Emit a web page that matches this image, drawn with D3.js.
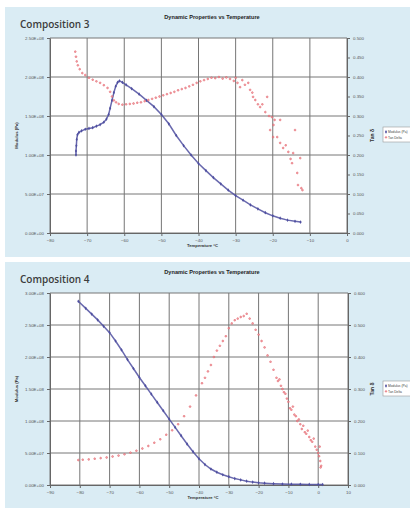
<!DOCTYPE html>
<html>
<head>
<meta charset="utf-8">
<script src="https://cdn.jsdelivr.net/npm/d3@7"></script>
<style>
    body { margin: 0; background: #fff; }
    svg { display: block; font-family: "Liberation Sans", Arial, sans-serif; }
</style>
</head>
<body>
<div id="chart"></div>
<script>
'use strict';

// ---- data: [temperature °C, value] ----
const comp3Modulus = [
    [-73.0, 1.00e8], [-73.0, 1.05e8], [-72.9, 1.12e8], [-72.8, 1.20e8], [-72.6, 1.26e8],
    [-72.2, 1.29e8], [-71.5, 1.31e8], [-70.5, 1.33e8], [-69.5, 1.34e8], [-68.5, 1.35e8],
    [-67.5, 1.37e8], [-66.5, 1.39e8], [-65.5, 1.42e8], [-64.8, 1.46e8], [-64.2, 1.52e8],
    [-63.8, 1.60e8], [-63.3, 1.70e8], [-62.8, 1.80e8], [-62.3, 1.88e8], [-61.8, 1.93e8],
    [-61.3, 1.95e8], [-60.5, 1.93e8], [-59.5, 1.90e8], [-58.0, 1.85e8], [-56.0, 1.78e8],
    [-54.0, 1.70e8], [-52.0, 1.62e8], [-50.0, 1.52e8], [-48.0, 1.40e8], [-46.0, 1.25e8],
    [-44.0, 1.12e8], [-42.0, 1.00e8], [-40.0, 0.89e8], [-38.0, 0.80e8], [-36.0, 0.71e8],
    [-34.0, 0.63e8], [-32.0, 0.55e8], [-30.0, 0.48e8], [-28.0, 0.42e8], [-26.0, 0.36e8],
    [-24.0, 0.31e8], [-22.0, 0.26e8], [-20.0, 0.22e8], [-18.0, 0.19e8], [-16.0, 0.165e8],
    [-14.0, 0.15e8], [-12.5, 0.14e8]
];
const comp3TanDelta = [
    [-73.2, 0.465], [-73.0, 0.452], [-72.8, 0.44], [-72.5, 0.43], [-72.0, 0.42], [-71.3, 0.41],
    [-70.5, 0.405], [-69.5, 0.398], [-68.5, 0.393], [-67.5, 0.389], [-66.5, 0.385], [-65.5, 0.379],
    [-64.5, 0.372], [-63.8, 0.362], [-63.3, 0.35], [-62.8, 0.34], [-62.2, 0.335], [-61.5, 0.331],
    [-60.5, 0.329], [-59.5, 0.33], [-58.5, 0.331], [-57.5, 0.332], [-56.5, 0.334], [-55.5, 0.335],
    [-54.5, 0.338], [-53.5, 0.341], [-52.5, 0.344], [-51.5, 0.347], [-50.5, 0.35], [-49.5, 0.353],
    [-48.5, 0.356], [-47.5, 0.359], [-46.5, 0.362], [-45.5, 0.366], [-44.5, 0.369], [-43.5, 0.372],
    [-42.5, 0.376], [-41.5, 0.38], [-40.5, 0.385], [-39.5, 0.389], [-38.5, 0.392], [-37.5, 0.395],
    [-36.5, 0.398], [-35.5, 0.397], [-34.5, 0.40], [-33.5, 0.396], [-32.5, 0.399], [-31.5, 0.395],
    [-30.5, 0.39], [-30.0, 0.398], [-29.5, 0.385], [-28.8, 0.374], [-28.2, 0.392], [-27.5, 0.38],
    [-26.6, 0.385], [-26.1, 0.367], [-25.5, 0.36], [-25.3, 0.349], [-24.7, 0.341], [-24.0, 0.33],
    [-23.4, 0.323], [-22.8, 0.33], [-22.0, 0.31], [-21.5, 0.349], [-21.0, 0.30], [-20.7, 0.264],
    [-20.2, 0.297], [-19.8, 0.277], [-19.5, 0.29], [-19.9, 0.246], [-18.8, 0.246], [-18.0, 0.29],
    [-18.0, 0.231], [-17.2, 0.218], [-16.5, 0.225], [-15.8, 0.208], [-15.2, 0.19], [-14.8, 0.179],
    [-14.5, 0.205], [-14.0, 0.264], [-13.4, 0.154], [-13.2, 0.123], [-12.6, 0.192], [-12.3, 0.115],
    [-12.0, 0.11]
];
const comp4Modulus = [
    [-80.5, 2.87e8], [-78.0, 2.76e8], [-76.0, 2.67e8], [-74.0, 2.58e8], [-72.0, 2.48e8],
    [-70.0, 2.38e8], [-68.0, 2.25e8], [-66.0, 2.11e8], [-64.0, 1.96e8], [-62.0, 1.82e8],
    [-60.0, 1.68e8], [-58.0, 1.55e8], [-56.0, 1.42e8], [-54.0, 1.29e8], [-52.0, 1.16e8],
    [-50.0, 1.03e8], [-48.0, 0.90e8], [-46.0, 0.77e8], [-44.0, 0.64e8], [-42.0, 0.52e8],
    [-40.0, 0.41e8], [-38.0, 0.32e8], [-36.0, 0.25e8], [-34.0, 0.20e8], [-32.0, 0.16e8],
    [-30.0, 0.13e8], [-28.0, 0.10e8], [-26.0, 0.08e8], [-24.0, 0.06e8], [-22.0, 0.045e8],
    [-20.0, 0.035e8], [-18.0, 0.028e8], [-15.0, 0.02e8], [-12.0, 0.015e8], [-9.0, 0.012e8],
    [-6.0, 0.01e8], [-3.0, 0.009e8], [0.0, 0.008e8], [1.5, 0.008e8]
];
const comp4TanDelta = [
    [-80.5, 0.078], [-79.0, 0.079], [-77.0, 0.080], [-75.0, 0.082], [-73.0, 0.084], [-71.0, 0.086],
    [-69.0, 0.089], [-67.0, 0.092], [-65.0, 0.096], [-63.0, 0.101], [-61.0, 0.107], [-59.0, 0.114],
    [-57.0, 0.122], [-55.0, 0.132], [-53.0, 0.143], [-51.0, 0.157], [-49.0, 0.171], [-47.0, 0.19],
    [-45.0, 0.215], [-43.0, 0.245], [-41.0, 0.28], [-39.0, 0.318], [-38.0, 0.335], [-37.0, 0.355],
    [-36.0, 0.375], [-35.0, 0.40], [-34.0, 0.42], [-33.0, 0.435], [-32.0, 0.45], [-31.0, 0.465],
    [-30.0, 0.49], [-29.0, 0.505], [-28.0, 0.515], [-27.0, 0.52], [-26.0, 0.525], [-25.0, 0.528],
    [-24.0, 0.535], [-23.0, 0.52], [-22.0, 0.505], [-21.0, 0.485], [-20.0, 0.47], [-19.0, 0.45],
    [-18.0, 0.43], [-17.0, 0.405], [-16.0, 0.385], [-15.0, 0.36], [-14.0, 0.335], [-13.5, 0.325],
    [-13.0, 0.33], [-12.5, 0.31], [-12.0, 0.30], [-11.5, 0.29], [-11.0, 0.285], [-10.5, 0.27],
    [-10.0, 0.26], [-9.5, 0.24], [-9.0, 0.235], [-8.5, 0.245], [-8.0, 0.22], [-7.5, 0.215],
    [-7.0, 0.20], [-6.5, 0.205], [-6.0, 0.19], [-5.5, 0.175], [-5.0, 0.185], [-4.5, 0.165],
    [-4.0, 0.16], [-3.5, 0.17], [-3.0, 0.15], [-2.5, 0.14], [-2.0, 0.135], [-1.5, 0.145],
    [-1.0, 0.12], [-0.5, 0.11], [0.0, 0.10], [0.3, 0.09], [0.5, 0.12], [0.7, 0.075],
    [0.8, 0.055], [1.0, 0.06]
];

// ---- tick labels ----
const comp3TempTicks = [-80, -70, -60, -50, -40, -30, -20, -10, 0];
const comp3ModulusTicks = [0, 5e7, 1e8, 1.5e8, 2e8, 2.5e8];
const comp3TanTicks = [0, 0.05, 0.1, 0.15, 0.2, 0.25, 0.3, 0.35, 0.4, 0.45, 0.5];
const comp4TempTicks = [-90, -80, -70, -60, -50, -40, -30, -20, -10, 0, 10];
const comp4ModulusTicks = [0, 5e7, 1e8, 1.5e8, 2e8, 2.5e8, 3e8];
const comp4TanTicks = [0, 0.1, 0.2, 0.3, 0.4, 0.5, 0.6];

const seriesNames = ['Modulus (Pa)', 'Tan Delta'];

const W = 410, H = 508;
const BLUE = '#4f4fa0', RED = '#e2525c';

const svg = d3.select('#chart').append('svg')
    .attr('width', W)
    .attr('height', H);

function sciFormat(v) {
    if (v === 0) return '0.00E+00';
    let e = Math.floor(Math.log10(v));
    let m = v / Math.pow(10, e);
    return m.toFixed(2) + 'E+' + String(e).padStart(2, '0');
}

function drawPanel(p) {
    let g = svg.append('g');
    g.append('rect')
        .attr('x', 5).attr('y', p.top)
        .attr('width', W - 5).attr('height', p.bottom - p.top)
        .attr('fill', '#daecf4');

    let x = d3.scaleLinear().domain(p.xDomain).range([p.left, p.right]);
    let y = d3.scaleLinear().domain(p.yDomain).range([p.plotBottom, p.plotTop]);
    let y2 = d3.scaleLinear().domain(p.y2Domain).range([p.plotBottom, p.plotTop]);

    g.append('rect')
        .attr('x', p.left).attr('y', p.plotTop)
        .attr('width', p.right - p.left).attr('height', p.plotBottom - p.plotTop)
        .attr('fill', '#fff');

    // grid
    g.append('g').selectAll('line').data(p.xTicks).join('line')
        .attr('x1', d => x(d)).attr('x2', d => x(d))
        .attr('y1', p.plotTop).attr('y2', p.plotBottom)
        .attr('stroke', '#767676').attr('stroke-width', 1);
    g.append('g').selectAll('line').data(p.yTicks).join('line')
        .attr('x1', p.left).attr('x2', p.right)
        .attr('y1', d => y(d)).attr('y2', d => y(d))
        .attr('stroke', '#767676').attr('stroke-width', 1);

    // axes
    let axisStyle = function(sel) {
        sel.selectAll('path.domain').attr('stroke', '#666');
        sel.selectAll('.tick line').attr('stroke', '#666');
        sel.selectAll('.tick text')
            .attr('fill', '#555')
            .style('font-size', '4.4px');
    };
    g.append('g')
        .attr('transform', `translate(0,${p.plotBottom})`)
        .call(d3.axisBottom(x).tickValues(p.xTicks).tickFormat(d3.format('d')).tickSize(3).tickSizeOuter(0))
        .call(axisStyle);
    g.append('g')
        .attr('transform', `translate(${p.left},0)`)
        .call(d3.axisLeft(y).tickValues(p.yTicks).tickFormat(sciFormat).tickSize(3).tickSizeOuter(0))
        .call(axisStyle);
    g.append('g')
        .attr('transform', `translate(${p.right},0)`)
        .call(d3.axisRight(y2).tickValues(p.y2Ticks).tickFormat(d3.format('.3f')).tickSize(3).tickSizeOuter(0))
        .call(axisStyle);

    // titles
    g.append('text')
        .attr('x', 20).attr('y', p.top + 21)
        .attr('fill', '#3c3c3c')
        .style('font-family', '"Open Sans", sans-serif')
        .style('font-size', '10px').style('font-weight', 600)
        .text(p.name);
    g.append('text')
        .attr('x', 212).attr('y', p.top + 12)
        .attr('text-anchor', 'middle')
        .attr('fill', '#222')
        .style('font-size', '5.6px').style('font-weight', 'bold')
        .text('Dynamic Properties vs Temperature');
    g.append('text')
        .attr('x', (p.left + p.right) / 2 + 4).attr('y', p.plotBottom + 14)
        .attr('text-anchor', 'middle')
        .attr('fill', '#333')
        .style('font-size', '4.2px').style('font-weight', 'bold')
        .text('Temperature °C');
    g.append('text')
        .attr('transform', `translate(18,${(p.plotTop + p.plotBottom) / 2}) rotate(-90)`)
        .attr('text-anchor', 'middle')
        .attr('fill', '#333')
        .style('font-size', '4.2px').style('font-weight', 'bold')
        .text('Modulus (Pa)');
    g.append('text')
        .attr('transform', `translate(374,${(p.plotTop + p.plotBottom) / 2}) rotate(-90)`)
        .attr('text-anchor', 'middle')
        .attr('fill', '#333')
        .style('font-size', '5px').style('font-weight', 'bold')
        .text('Tan δ');

    // series
    let line = d3.line().x(d => x(d[0])).y(d => y(d[1]));
    g.append('path')
        .datum(p.modulus)
        .attr('d', line)
        .attr('fill', 'none')
        .attr('stroke', BLUE).attr('stroke-width', 1.5).attr('opacity', 0.85);
    g.append('g').selectAll('path').data(p.modulus).join('path')
        .attr('d', d3.symbol(d3.symbolDiamond, 4))
        .attr('transform', d => `translate(${x(d[0])},${y(d[1])})`)
        .attr('fill', BLUE);
    g.append('g').selectAll('circle').data(p.tanDelta).join('circle')
        .attr('cx', d => x(d[0])).attr('cy', d => y2(d[1]))
        .attr('r', 0.9)
        .attr('fill', '#f3a9ad')
        .attr('stroke', RED).attr('stroke-width', 0.6).attr('opacity', 0.9);

    // legend, pushed against the right page edge like the original
    let lg = g.append('g').attr('transform', `translate(383,${p.legendY})`);
    lg.append('rect')
        .attr('width', 30).attr('height', 15)
        .attr('fill', '#fff').attr('stroke', '#999').attr('stroke-width', 0.6);
    lg.selectAll('text').data(seriesNames).join('text')
        .attr('x', 5).attr('y', (d, i) => 6 + i * 5.5)
        .attr('fill', '#444')
        .style('font-size', '3.3px')
        .text(d => d);
    lg.append('path')
        .attr('d', d3.symbol(d3.symbolDiamond, 4))
        .attr('transform', 'translate(3,4.9)')
        .attr('fill', BLUE);
    lg.append('circle')
        .attr('cx', 3).attr('cy', 10.4).attr('r', 0.8)
        .attr('fill', '#f3a9ad').attr('stroke', RED).attr('stroke-width', 0.5);
}

drawPanel({
    name: 'Composition 3', top: 7, bottom: 257,
    left: 50, right: 347, plotTop: 38, plotBottom: 233,
    xDomain: [-80, 0], yDomain: [0, 2.5e8], y2Domain: [0, 0.5],
    xTicks: comp3TempTicks, yTicks: comp3ModulusTicks, y2Ticks: comp3TanTicks,
    modulus: comp3Modulus, tanDelta: comp3TanDelta, legendY: 127
});
drawPanel({
    name: 'Composition 4', top: 262, bottom: 508,
    left: 50, right: 348, plotTop: 293, plotBottom: 485,
    xDomain: [-90, 10], yDomain: [0, 3e8], y2Domain: [0, 0.6],
    xTicks: comp4TempTicks, yTicks: comp4ModulusTicks, y2Ticks: comp4TanTicks,
    modulus: comp4Modulus, tanDelta: comp4TanDelta, legendY: 381
});
</script>
</body>
</html>
